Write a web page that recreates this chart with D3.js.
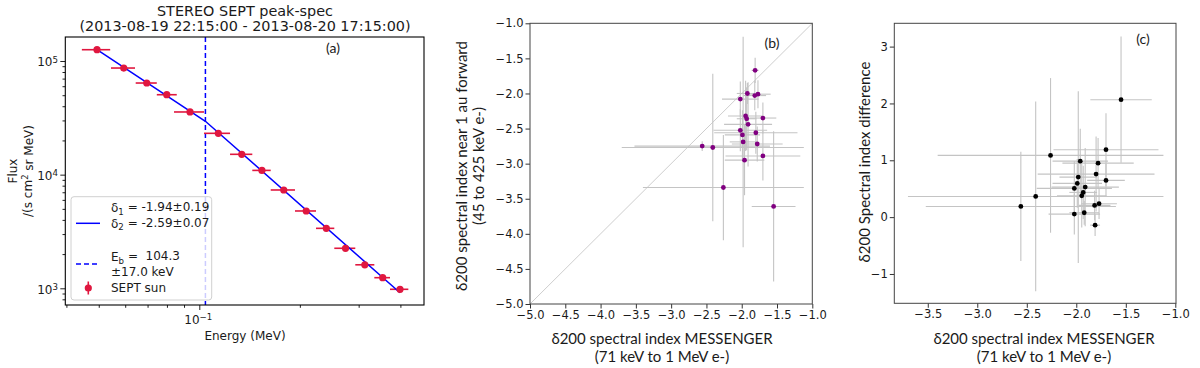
<!DOCTYPE html>
<html>
<head>
<meta charset="utf-8">
<script src="https://cdnjs.cloudflare.com/ajax/libs/d3/7.8.5/d3.min.js"></script>
<style>
body { margin: 0; background: #fff; }
svg text { font-family: "DejaVu Sans", sans-serif; fill: #1a1a1a; }
svg text.cal { font-family: Lato, "Open Sans", sans-serif; }
</style>
</head>
<body>
<svg id="fig" width="1200" height="368"></svg>
<script>
'use strict';

// (a) STEREO SEPT peak spectrum
var energy = [0.0494, 0.0594, 0.0696, 0.0799, 0.0938, 0.114, 0.134, 0.154, 0.179, 0.209, 0.240, 0.274, 0.313, 0.354, 0.399];
var energyLow = [0.0445, 0.0544, 0.0645, 0.0746, 0.0840, 0.1033, 0.1236, 0.1441, 0.1636, 0.1934, 0.2236, 0.2536, 0.2931, 0.3342, 0.3724];
var energyHigh = [0.0541, 0.0642, 0.0746, 0.0856, 0.1033, 0.1236, 0.1441, 0.1636, 0.1934, 0.2236, 0.2536, 0.2931, 0.3342, 0.3724, 0.4225];
var flux = [1.257e5, 8.67e4, 6.40e4, 5.05e4, 3.56e4, 2.31e4, 1.51e4, 1.09e4, 7.33e3, 4.79e3, 3.37e3, 2.25e3, 1.61e3, 1.24e3, 980];
var fitDelta = [-1.94, -2.59];
var breakEnergy = 0.1043;
var breakFlux = 2.95e4;

// (b), (c) one entry per event
var messIndex = [-1.81, -1.92, -1.815, -1.77, -2.02, -1.945, -1.93, -1.70, -1.91, -2.02, -1.99, -1.80, -1.98, -1.78, -2.56, -2.41, -1.70, -1.96, -2.26, -1.548];
var messErr = [0.05, 0.15, 0.16, 0.18, 0.26, 0.25, 0.14, 0.19, 0.34, 0.38, 0.25, 0.59, 0.19, 0.36, 0.96, 1.29, 0.53, 0.28, 1.14, 0.31];
var nearIndex = [-1.67, -2.00, -2.03, -2.01, -2.08, -2.32, -2.36, -2.35, -2.44, -2.525, -2.59, -2.56, -2.69, -2.72, -2.75, -2.77, -2.89, -2.95, -3.34, -3.61];
var nearErr = [0.18, 0.15, 0.21, 0.2, 0.25, 0.5, 0.45, 0.22, 0.6, 0.3, 0.35, 0.3, 1.5, 0.25, 0.07, 1.05, 0.35, 0.5, 0.75, 1.07];
var diffIndex = [-0.141, 0.077, 0.206, 0.236, 0.053, 0.376, 0.435, 0.646, 0.528, 0.505, 0.593, 0.757, 0.704, 0.950, 0.188, 0.364, 1.186, 0.985, 1.086, 2.066];
var diffErr = [0.19, 0.21, 0.26, 0.27, 0.36, 0.56, 0.47, 0.29, 0.69, 0.48, 0.43, 0.66, 1.51, 0.44, 0.96, 1.67, 0.64, 0.57, 1.36, 1.11];

var svg = d3.select('#fig');

drawSpectrum();
drawScatter({
    x: d3.scaleLinear().domain([-5, -1]).range([530, 812.3]),
    y: d3.scaleLinear().domain([-5, -1]).range([304, 23.3]),
    xs: messIndex, xe: messErr, ys: nearIndex, ye: nearErr,
    color: '#800080', diagonal: true, tag: '(b)', tagPos: [772, 43],
    xTicks: d3.range(-5, -0.99, 0.5), yTicks: d3.range(-5, -0.99, 0.5), fmtX: d3.format('.1f'), fmtY: d3.format('.1f'),
    xLabelX: 662, yLabel: ['δ200 spectral index near 1 au forward', '(45 to 425 keV e-)'], yLabelX: [461.7, 478.3], yLabelY: 166
});
drawScatter({
    x: d3.scaleLinear().domain([-3.838, -0.993]).range([894.3, 1176]),
    y: d3.scaleLinear().domain([-1.516, 3.41]).range([303.3, 23.3]),
    xs: messIndex, xe: messErr, ys: diffIndex, ye: diffErr,
    color: '#000', diagonal: false, tag: '(c)', tagPos: [1143, 39],
    xTicks: d3.range(-3.5, -0.99, 0.5), yTicks: [-1, 0, 1, 2, 3], fmtX: d3.format('.1f'), fmtY: d3.format('d'),
    xLabelX: 1044, yLabel: ['δ200 Spectral index difference'], yLabelX: [865], yLabelY: 162
});

function powerTen(sel, exp) {
    sel.append('tspan').text('10');
    sel.append('tspan').attr('dy', '-0.45em').attr('font-size', '0.72em').text(exp);
}

function drawSpectrum() {
    var x = d3.scaleLog().domain([0.0397, 0.4707]).range([65.3, 424]);
    var y = d3.scaleLog().domain([713, 1.626e5]).range([305, 37]);
    var g = svg.append('g');
    var red = '#e0173f';

    var isMajor = function(v) { return Math.abs(Math.log10(v) - Math.round(Math.log10(v))) < 1e-6; };
    var xTicks = x.ticks();
    var yTicks = y.ticks();

    [[xTicks.filter(function(v) { return !isMajor(v); }), 2.8], [xTicks.filter(isMajor), 5]].forEach(function(t) {
        var ax = g.append('g').attr('transform', 'translate(0,305)')
            .call(d3.axisBottom(x).tickValues(t[0]).tickSize(t[1]).tickFormat(''));
        ax.select('.domain').remove();
        ax.selectAll('line').attr('stroke', '#222');
    });
    [[yTicks.filter(function(v) { return !isMajor(v); }), 2.8], [yTicks.filter(isMajor), 5]].forEach(function(t) {
        var ax = g.append('g').attr('transform', 'translate(65.3,0)')
            .call(d3.axisLeft(y).tickValues(t[0]).tickSize(t[1]).tickFormat(''));
        ax.select('.domain').remove();
        ax.selectAll('line').attr('stroke', '#222');
    });

    yTicks.filter(isMajor).forEach(function(v) {
        var t = g.append('text').attr('x', 58).attr('y', y(v)).attr('dy', '0.45em')
            .attr('text-anchor', 'end').attr('font-size', 12);
        powerTen(t, String(Math.round(Math.log10(v))));
    });
    xTicks.filter(isMajor).forEach(function(v) {
        var t = g.append('text').attr('x', x(v) - 1).attr('y', 323.5)
            .attr('text-anchor', 'middle').attr('font-size', 12);
        powerTen(t, '\u22121');
    });

    // broken power-law fit
    var fit = function(e) {
        var d = e < breakEnergy ? fitDelta[0] : fitDelta[1];
        return breakFlux * Math.pow(e / breakEnergy, d);
    };
    var fitPts = [energy[0], breakEnergy, energy[energy.length - 1]];

    g.append('line')
        .attr('x1', x(breakEnergy)).attr('x2', x(breakEnergy)).attr('y1', 37).attr('y2', 305)
        .attr('stroke', '#0000ff').attr('stroke-width', 1.5).attr('stroke-dasharray', '5,3');

    g.selectAll('.xerr').data(energy).enter().append('line')
        .attr('x1', function(d, i) { return x(energyLow[i]); })
        .attr('x2', function(d, i) { return x(energyHigh[i]); })
        .attr('y1', function(d, i) { return y(flux[i]); })
        .attr('y2', function(d, i) { return y(flux[i]); })
        .attr('stroke', red).attr('stroke-width', 1.6);

    g.append('path')
        .attr('d', d3.line().x(function(e) { return x(e); }).y(function(e) { return y(fit(e)); })(fitPts))
        .attr('fill', 'none').attr('stroke', '#0000ff').attr('stroke-width', 1.5);

    g.selectAll('.pt').data(energy).enter().append('circle')
        .attr('cx', function(d) { return x(d); })
        .attr('cy', function(d, i) { return y(flux[i]); })
        .attr('r', 3.6).attr('fill', red);

    g.append('rect').attr('x', 65.3).attr('y', 37).attr('width', 358.7).attr('height', 268)
        .attr('fill', 'none').attr('stroke', '#000').attr('stroke-width', 1.1);

    // legend
    g.append('rect').attr('x', 71).attr('y', 196.7).attr('width', 140.7).attr('height', 103.3).attr('rx', 3)
        .attr('fill', '#fff').attr('fill-opacity', 0.8).attr('stroke', '#d0d0d0');
    g.append('line').attr('x1', 76).attr('x2', 100).attr('y1', 223.3).attr('y2', 223.3)
        .attr('stroke', '#0000ff').attr('stroke-width', 1.5);
    g.append('line').attr('x1', 76).attr('x2', 100).attr('y1', 264).attr('y2', 264)
        .attr('stroke', '#0000ff').attr('stroke-width', 1.5).attr('stroke-dasharray', '5,3');
    g.append('line').attr('x1', 88.3).attr('x2', 88.3).attr('y1', 281.5).attr('y2', 294.5)
        .attr('stroke', red).attr('stroke-width', 1.6);
    g.append('circle').attr('cx', 88.3).attr('cy', 288).attr('r', 3.6).attr('fill', red);

    var sub = function(y0, sym, idx, rest) {
        var t = g.append('text').attr('x', 111).attr('y', y0).attr('dy', '0.36em').attr('font-size', 12);
        t.append('tspan').text(sym);
        t.append('tspan').attr('dy', '0.3em').attr('font-size', '0.72em').text(idx);
        t.append('tspan').attr('dy', '-0.3em').text(rest);
    };
    sub(207.7, 'δ', '1', ' = -1.94±0.19');
    sub(223.3, 'δ', '2', ' = -2.59±0.07');
    sub(256.7, 'E', 'b', ' = \u00a0104.3');
    g.append('text').attr('x', 111).attr('y', 271.7).attr('dy', '0.36em').attr('font-size', 12).text('±17.0 keV');
    g.append('text').attr('x', 111).attr('y', 288).attr('dy', '0.36em').attr('font-size', 12).text('SEPT sun');

    g.append('text').attr('x', 245).attr('y', 10.7).attr('dy', '0.36em').attr('text-anchor', 'middle')
        .attr('font-size', 14.4).text('STEREO SEPT peak-spec');
    g.append('text').attr('x', 245).attr('y', 25.7).attr('dy', '0.36em').attr('text-anchor', 'middle')
        .attr('font-size', 14.4).text('(2013-08-19 22:15:00 - 2013-08-20 17:15:00)');
    g.append('text').attr('class', 'cal').attr('x', 333).attr('y', 48).attr('dy', '0.36em').attr('text-anchor', 'middle')
        .attr('font-size', 14).text('(a)');
    g.append('text').attr('x', 245).attr('y', 335.7).attr('dy', '0.36em').attr('text-anchor', 'middle')
        .attr('font-size', 12).text('Energy (MeV)');

    g.append('text').attr('transform', 'translate(13,171) rotate(-90)').attr('dy', '0.36em')
        .attr('text-anchor', 'middle').attr('font-size', 12).text('Flux');
    var yl = g.append('text').attr('transform', 'translate(27.5,171) rotate(-90)').attr('dy', '0.36em')
        .attr('text-anchor', 'middle').attr('font-size', 12);
    yl.append('tspan').text('/(s cm');
    yl.append('tspan').attr('dy', '-0.4em').attr('font-size', '0.7em').text('2');
    yl.append('tspan').attr('dy', '0.4em').text(' sr MeV)');
}

function drawScatter(o) {
    var g = svg.append('g');
    var x = o.x, y = o.y;
    var x0 = x.range()[0], x1 = x.range()[1], y0 = y.range()[1], y1 = y.range()[0];

    var ax = g.append('g').attr('transform', 'translate(0,' + y1 + ')')
        .call(d3.axisBottom(x).tickValues(o.xTicks).tickSize(4.5).tickPadding(2).tickFormat(o.fmtX));
    var ay = g.append('g').attr('transform', 'translate(' + x0 + ',0)')
        .call(d3.axisLeft(y).tickValues(o.yTicks).tickSize(4.5).tickPadding(2).tickFormat(o.fmtY));
    [ax, ay].forEach(function(a) {
        a.select('.domain').remove();
        a.selectAll('line').attr('stroke', '#333');
        a.selectAll('text').attr('font-size', 11.5).attr('fill', '#1a1a1a').attr('font-family', '"DejaVu Sans", sans-serif');
    });

    if (o.diagonal) {
        g.append('line').attr('x1', x(-5)).attr('y1', y(-5)).attr('x2', x(-1)).attr('y2', y(-1))
            .attr('stroke', '#b8b8b8').attr('stroke-width', 0.7);
    }

    g.selectAll('.xe').data(o.xs).enter().append('line')
        .attr('x1', function(d, i) { return x(d - o.xe[i]); })
        .attr('x2', function(d, i) { return x(d + o.xe[i]); })
        .attr('y1', function(d, i) { return y(o.ys[i]); })
        .attr('y2', function(d, i) { return y(o.ys[i]); })
        .attr('stroke', '#c4c4c4').attr('stroke-width', 1.1);
    g.selectAll('.ye').data(o.xs).enter().append('line')
        .attr('x1', function(d) { return x(d); })
        .attr('x2', function(d) { return x(d); })
        .attr('y1', function(d, i) { return y(o.ys[i] - o.ye[i]); })
        .attr('y2', function(d, i) { return y(o.ys[i] + o.ye[i]); })
        .attr('stroke', '#c4c4c4').attr('stroke-width', 1.1);

    g.selectAll('.pt').data(o.xs).enter().append('circle')
        .attr('cx', function(d) { return x(d); })
        .attr('cy', function(d, i) { return y(o.ys[i]); })
        .attr('r', 2.4).attr('fill', o.color);

    g.append('rect').attr('x', x0).attr('y', y0).attr('width', x1 - x0).attr('height', y1 - y0)
        .attr('fill', 'none').attr('stroke', '#444').attr('stroke-width', 1);

    g.append('text').attr('class', 'cal').attr('x', o.tagPos[0]).attr('y', o.tagPos[1]).attr('dy', '0.36em')
        .attr('text-anchor', 'middle').attr('font-size', 14).text(o.tag);

    g.append('text').attr('class', 'cal').attr('x', o.xLabelX).attr('y', 338.3).attr('dy', '0.36em')
        .attr('text-anchor', 'middle').attr('font-size', 15).text('δ200 spectral index MESSENGER');
    g.append('text').attr('class', 'cal').attr('x', o.xLabelX).attr('y', 356.7).attr('dy', '0.36em')
        .attr('text-anchor', 'middle').attr('font-size', 15).text('(71 keV to 1 MeV e-)');
    o.yLabel.forEach(function(s, i) {
        g.append('text').attr('class', 'cal')
            .attr('transform', 'translate(' + o.yLabelX[i] + ',' + o.yLabelY + ') rotate(-90)')
            .attr('dy', '0.36em').attr('text-anchor', 'middle').attr('font-size', 15).text(s);
    });
}
</script>
</body>
</html>
